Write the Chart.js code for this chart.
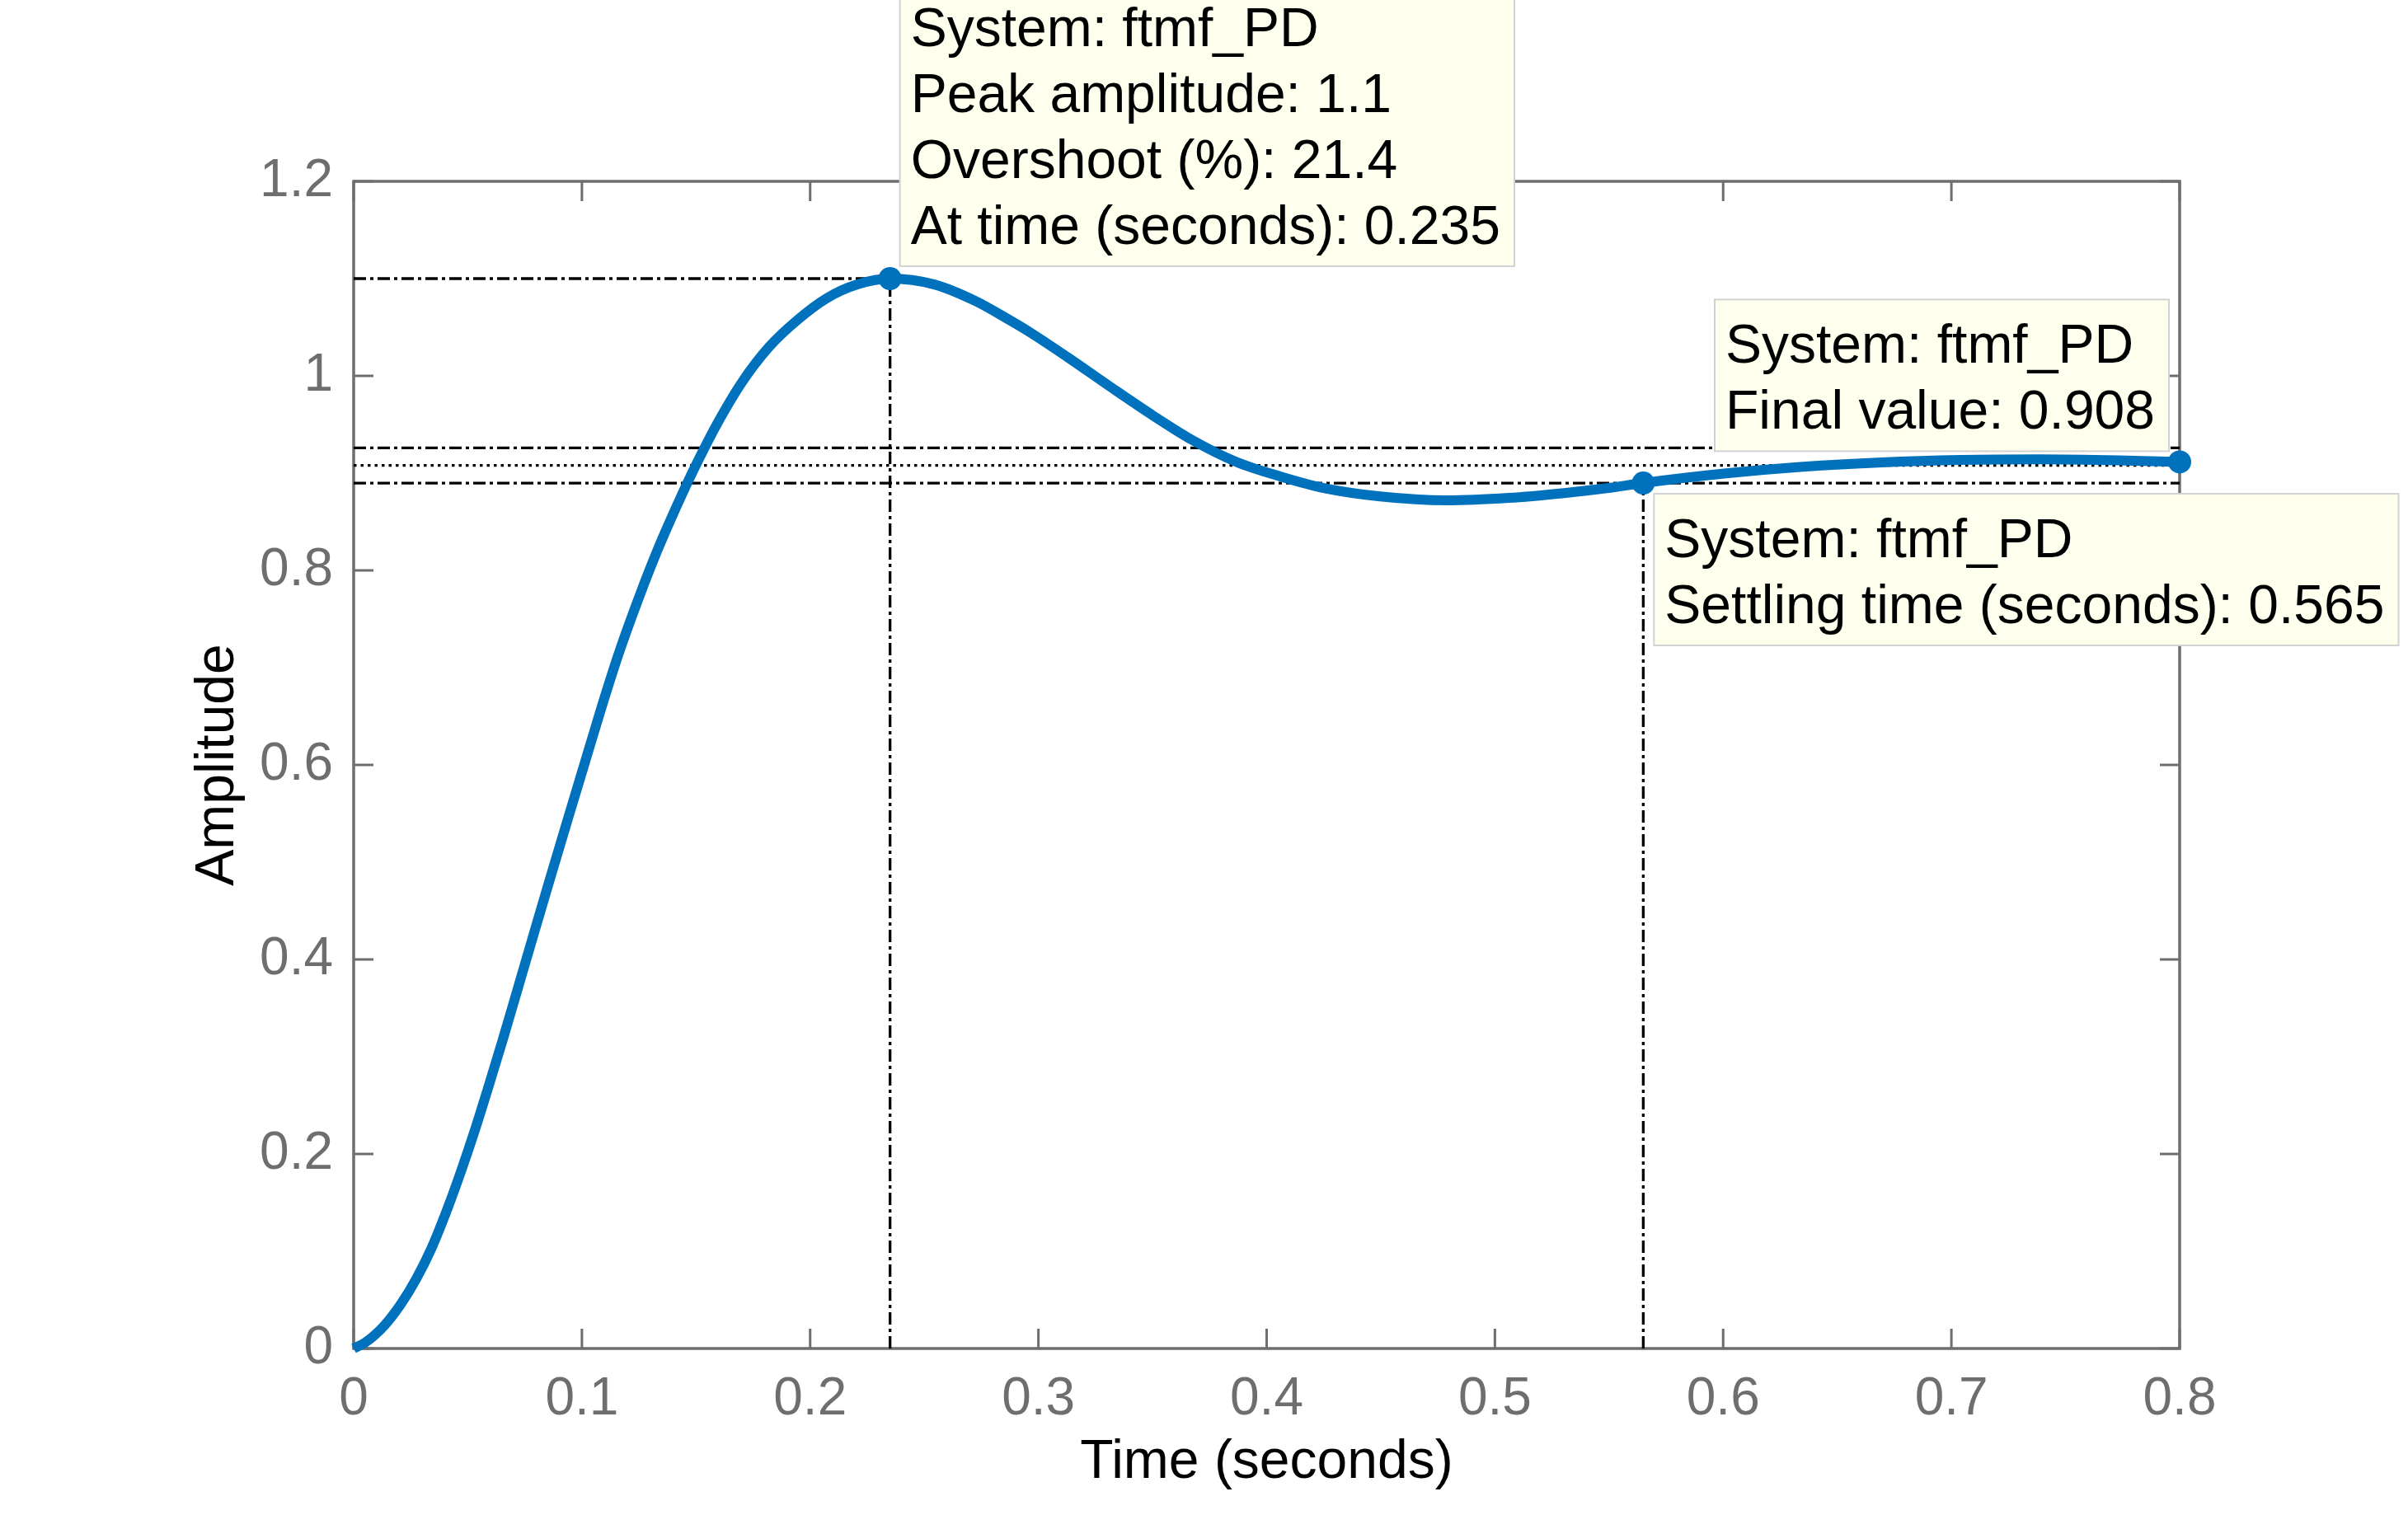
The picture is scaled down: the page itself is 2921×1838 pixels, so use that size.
<!DOCTYPE html>
<html>
<head>
<meta charset="utf-8">
<title>Step response ftmf_PD</title>
<script src="https://cdn.jsdelivr.net/npm/chart.js@4.4.1/dist/chart.umd.min.js"></script>
<style>
  html, body { margin: 0; padding: 0; background: #ffffff; }
  #wrap { width: 2921px; height: 1838px; }
</style>
</head>
<body>
<div id="wrap"><canvas id="step" width="2921" height="1838"></canvas></div>
<script>
// step response of ftmf_PD
const timeS = [0, 0.005, 0.0136, 0.0208, 0.0274, 0.034, 0.0413, 0.0473, 0.0533, 0.0593,
  0.0654, 0.0714, 0.078, 0.0859, 0.0943, 0.1015, 0.1087, 0.1165, 0.1256, 0.1328,
  0.1364, 0.146, 0.1535, 0.1593, 0.170, 0.1821, 0.1942, 0.2074, 0.2207, 0.235,
  0.2544, 0.2724, 0.2869, 0.2965, 0.3126, 0.332, 0.3497, 0.3674, 0.3868, 0.4062,
  0.4255, 0.4497, 0.4787, 0.5061, 0.5303, 0.549, 0.565, 0.6004, 0.635, 0.6695,
  0.704, 0.7386, 0.7731, 0.8];
const amplitude = [0, 0.006, 0.024, 0.046, 0.0715, 0.1025, 0.145, 0.184, 0.226, 0.271,
  0.318, 0.366, 0.419, 0.482, 0.548, 0.604, 0.660, 0.717, 0.776, 0.819,
  0.839, 0.889, 0.925, 0.951, 0.993, 1.030, 1.057, 1.080, 1.094, 1.1,
  1.094, 1.077, 1.058, 1.0445, 1.0195, 0.988, 0.960, 0.934, 0.9115, 0.8965,
  0.8844, 0.876, 0.872, 0.8745, 0.8795, 0.8845, 0.8898, 0.8995, 0.9065, 0.911,
  0.9135, 0.9142, 0.9132, 0.9115];

// characteristics (data tips)
const peakTime = 0.235, peakAmp = 1.1;
const settleTime = 0.565, settleAmp = 0.8898;
const finalTime = 0.8, finalAmp = 0.9115;
const finalValue = 0.908;
const settleBand = [0.926, 0.8898];

const xTickValues = [0, 0.1, 0.2, 0.3, 0.4, 0.5, 0.6, 0.7, 0.8];
const xTickLabels = ['0', '0.1', '0.2', '0.3', '0.4', '0.5', '0.6', '0.7', '0.8'];
const yTickValues = [0, 0.2, 0.4, 0.6, 0.8, 1, 1.2];
const yTickLabels = ['0', '0.2', '0.4', '0.6', '0.8', '1', '1.2'];

const peakTip = ['System: ftmf_PD', 'Peak amplitude: 1.1', 'Overshoot (%): 21.4', 'At time (seconds): 0.235'];
const finalTip = ['System: ftmf_PD', 'Final value: 0.908'];
const settleTip = ['System: ftmf_PD', 'Settling time (seconds): 0.565'];

const FONT = '"Liberation Sans", Arial, Helvetica, sans-serif';
const AXIS_GRAY = '#6e6e6e';
const BLUE = '#0072bd';
const DASH_DOT = [15, 5, 4, 5];
const DOTS = [3.5, 5];

function refLine(points, dash) {
  return {
    data: points, borderColor: '#000000', borderWidth: 3.3, borderDash: dash,
    pointRadius: 0, fill: false, tension: 0, clip: false
  };
}

// axes box + inward ticks on all four sides
const boxPlugin = {
  id: 'matlabBox',
  beforeDatasetsDraw(chart) {
    const { ctx, chartArea: a, scales: { x, y } } = chart;
    const tl = 24;
    ctx.save();
    ctx.strokeStyle = AXIS_GRAY;
    ctx.lineWidth = 3.5;
    ctx.strokeRect(a.left, a.top, a.right - a.left, a.bottom - a.top);
    ctx.lineWidth = 3;
    ctx.beginPath();
    xTickValues.forEach(v => {
      const px = x.getPixelForValue(v);
      ctx.moveTo(px, a.bottom); ctx.lineTo(px, a.bottom - tl);
      ctx.moveTo(px, a.top); ctx.lineTo(px, a.top + tl);
    });
    yTickValues.forEach(v => {
      const py = y.getPixelForValue(v);
      ctx.moveTo(a.left, py); ctx.lineTo(a.left + tl, py);
      ctx.moveTo(a.right, py); ctx.lineTo(a.right - tl, py);
    });
    ctx.stroke();
    ctx.restore();
  }
};

// yellow data tip boxes
const tipPlugin = {
  id: 'dataTips',
  afterDraw(chart) {
    const { ctx, scales: { x, y } } = chart;
    const lineH = 80;
    const tips = [
      { lines: peakTip, t: peakTime, v: peakAmp, side: 'upRight' },
      { lines: finalTip, t: finalTime, v: finalAmp, side: 'upLeft' },
      { lines: settleTip, t: settleTime, v: settleAmp, side: 'downRight' }
    ];
    ctx.save();
    ctx.font = '66px ' + FONT;
    ctx.textAlign = 'left';
    ctx.textBaseline = 'alphabetic';
    tips.forEach(tip => {
      const px = x.getPixelForValue(tip.t);
      const py = y.getPixelForValue(tip.v);
      const w = Math.max(...tip.lines.map(s => ctx.measureText(s).width)) + 30;
      const h = tip.lines.length * lineH + 24;
      let left, top;
      if (tip.side === 'upRight') { left = px + 12; top = py - 15 - h; }
      else if (tip.side === 'upLeft') { left = px - 13 - w; top = py - 13 - h; }
      else { left = px + 13; top = py + 13; }
      ctx.fillStyle = '#ffffee';
      ctx.fillRect(left, top, w, h);
      ctx.strokeStyle = '#d2d2d2';
      ctx.lineWidth = 2;
      ctx.strokeRect(left, top, w, h);
      ctx.fillStyle = '#000000';
      tip.lines.forEach((s, i) => ctx.fillText(s, left + 13, top + 77 + i * lineH));
    });
    ctx.restore();
  }
};

const ctx = document.getElementById('step').getContext('2d');
new Chart(ctx, {
  type: 'line',
  data: {
    datasets: [
      {
        // tip markers
        data: [{ x: peakTime, y: peakAmp }, { x: settleTime, y: settleAmp }, { x: finalTime, y: finalAmp }],
        showLine: false, pointRadius: 14, pointBackgroundColor: BLUE, pointBorderWidth: 0, clip: false
      },
      {
        data: timeS.map((t, i) => ({ x: t, y: amplitude[i] })),
        borderColor: BLUE, borderWidth: 12, pointRadius: 0, fill: false,
        cubicInterpolationMode: 'monotone', clip: false
      },
      refLine([{ x: 0, y: peakAmp }, { x: peakTime, y: peakAmp }], DASH_DOT),
      refLine([{ x: peakTime, y: 0 }, { x: peakTime, y: peakAmp }], DASH_DOT),
      refLine([{ x: 0, y: settleBand[0] }, { x: 0.8, y: settleBand[0] }], DASH_DOT),
      refLine([{ x: 0, y: finalValue }, { x: 0.8, y: finalValue }], DOTS),
      refLine([{ x: 0, y: settleBand[1] }, { x: 0.8, y: settleBand[1] }], DASH_DOT),
      refLine([{ x: settleTime, y: 0 }, { x: settleTime, y: settleAmp }], DASH_DOT)
    ]
  },
  options: {
    responsive: false,
    devicePixelRatio: 1,
    animation: false,
    layout: { padding: { top: 220, right: 277, left: 0, bottom: 0 } },
    plugins: { legend: { display: false }, tooltip: { enabled: false } },
    scales: {
      x: {
        type: 'linear', min: 0, max: 0.8,
        afterBuildTicks: s => { s.ticks = xTickValues.map(v => ({ value: v })); },
        afterFit: s => { s.height = 202; },
        grid: { display: false, drawTicks: false },
        border: { display: false },
        ticks: {
          padding: 24, color: AXIS_GRAY, maxRotation: 0, autoSkip: false,
          font: { family: FONT, size: 64 },
          callback: (v, i) => xTickLabels[i]
        },
        title: {
          display: true, text: 'Time (seconds)', color: '#000000',
          font: { family: FONT, size: 66 }, padding: { top: 0, bottom: 24 }
        }
      },
      y: {
        type: 'linear', min: 0, max: 1.2,
        afterBuildTicks: s => { s.ticks = yTickValues.map(v => ({ value: v })); },
        afterFit: s => { s.width = 429; },
        grid: { display: false, drawTicks: false },
        border: { display: false },
        ticks: {
          padding: 25, color: AXIS_GRAY, autoSkip: false,
          font: { family: FONT, size: 64 },
          callback: (v, i) => yTickLabels[i]
        },
        title: {
          display: true, text: 'Amplitude', color: '#000000',
          font: { family: FONT, size: 66 }, padding: { top: 225, bottom: 0 }
        }
      }
    }
  },
  plugins: [boxPlugin, tipPlugin]
});
</script>
</body>
</html>
